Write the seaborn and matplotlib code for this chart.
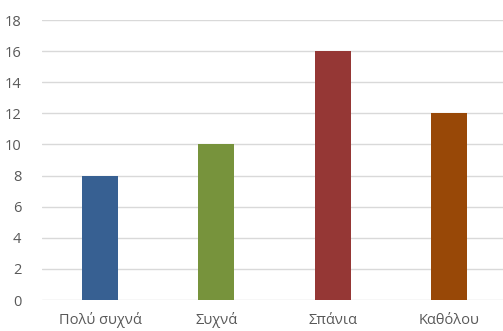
import matplotlib
matplotlib.use("Agg")
import matplotlib.pyplot as plt
import seaborn as sns
import pandas as pd

categories = ["Πολύ συχνά", "Συχνά", "Σπάνια", "Καθόλου"]
values = [8, 10, 16, 12]
bar_colors = ["#376092", "#77933C", "#953735", "#984807"]
y_ticks = [0, 2, 4, 6, 8, 10, 12, 14, 16, 18]

sns.set_theme(style="white")
plt.rcParams["font.family"] = ["Open Sans", "DejaVu Sans"]

df = pd.DataFrame({"category": categories, "value": values})

fig = plt.figure(figsize=(5.03, 3.31), dpi=100)
ax = fig.add_axes([42 / 503, 31 / 331, 465 / 503, 280 / 331])

sns.barplot(data=df, x="category", y="value", hue="category",
            palette=bar_colors, width=0.31, legend=False, ax=ax,
            saturation=1, edgecolor="none", zorder=3)

ax.set_ylim(0, 18)
ax.set_xlim(-0.5, 3.5)
ax.set_yticks(y_ticks)
ax.yaxis.grid(True, color="#d9d9d9", linewidth=1.0, zorder=0)
ax.set_axisbelow(True)
for s in ax.spines.values():
    s.set_visible(False)
ax.tick_params(axis="both", length=0, colors="#595959", labelsize=10.5)
ax.tick_params(axis="y", pad=15)
ax.tick_params(axis="x", pad=9)
ax.set_xlabel("")
ax.set_ylabel("")

fig.savefig("out.png", dpi=100, facecolor="white")
